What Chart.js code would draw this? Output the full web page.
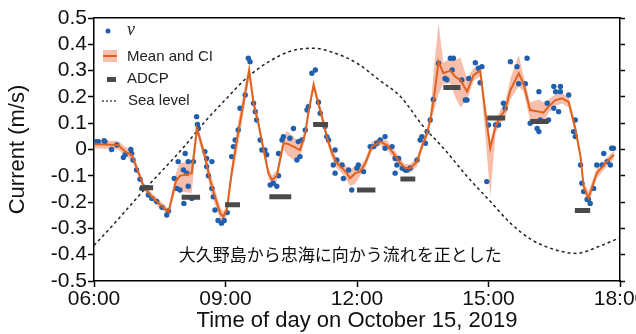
<!DOCTYPE html>
<html>
<head>
<meta charset="utf-8">
<script src="https://cdn.jsdelivr.net/npm/chart.js@4.4.0/dist/chart.umd.min.js"></script>
<style>
  html, body { margin: 0; padding: 0; background: #fff; }
  #wrap { width: 636px; height: 334px; }
</style>
</head>
<body>
<div id="wrap"><canvas id="flow" width="636" height="334"></canvas></div>
<script>
// Tick labels
const xTicks = ['06:00', '09:00', '12:00', '15:00', '18:00'];

// Sea level (every 30 min from 06:00)
const seaTime = [6, 6.5, 7, 7.5, 8, 8.5, 9, 9.5, 10, 10.5, 11, 11.5, 12,
                 12.5, 13, 13.5, 14, 14.5, 15, 15.5, 16, 16.5, 17, 17.5, 18];
const seaLevel = [-0.365, -0.275, -0.18, -0.09, 0.0, 0.10, 0.19, 0.275, 0.335, 0.375, 0.385, 0.366, 0.328,
                  0.265, 0.20, 0.09, 0.0, -0.10, -0.19, -0.28, -0.345, -0.38, -0.395, -0.37, -0.335];

// Mean and confidence interval (hours of day)
const meanTime = [6.02, 6.55, 6.71, 6.86, 7.01, 7.13, 7.32, 7.51, 7.70, 7.87,
                  7.96, 8.23, 8.35, 8.53, 8.65, 8.76, 8.88, 8.95, 9.03, 9.14,
                  9.26, 9.37, 9.54, 9.64, 9.75, 9.87, 9.98, 10.06, 10.17, 10.32,
                  10.40, 10.55, 10.70, 10.82, 10.89, 11.01, 11.08, 11.20, 11.31, 11.43,
                  11.54, 11.66, 11.77, 11.84, 11.96, 12.07, 12.19, 12.34, 12.53, 12.68,
                  12.83, 12.99, 13.10, 13.21, 13.37, 13.48, 13.60, 13.67, 13.75, 13.86,
                  13.97, 14.13, 14.24, 14.36, 14.51, 14.66, 14.81, 14.93, 15.04, 15.16,
                  15.27, 15.38, 15.50, 15.69, 15.80, 15.95, 16.15, 16.25, 16.37, 16.53,
                  16.68, 16.83, 16.98, 17.10, 17.17, 17.28, 17.38, 17.47, 17.67, 17.86];
const meanValue = [0.02, 0.017, -0.008, -0.02, -0.085, -0.14, -0.18, -0.21, -0.237, -0.12,
                   -0.10, -0.09, 0.08, -0.027, -0.116, -0.18, -0.243, -0.255, -0.23, -0.09,
                   0.036, 0.138, 0.30, 0.176, 0.10, -0.002, -0.09, -0.116, -0.10, 0.023,
                   0.023, 0.011, -0.002, 0.062, 0.138, 0.245, 0.20, 0.125, 0.049, -0.014,
                   -0.052, -0.071, -0.09, -0.11, -0.09, -0.084, -0.052, 0.011, 0.03, 0.017,
                   -0.014, -0.052, -0.071, -0.071, -0.046, 0.011, 0.062, 0.112, 0.19, 0.334,
                   0.29, 0.30, 0.277, 0.264, 0.22, 0.283, 0.30, 0.138, 0.005, 0.087,
                   0.125, 0.15, 0.226, 0.29, 0.25, 0.15, 0.144, 0.14, 0.163, 0.188,
                   0.195, 0.18, 0.08, -0.027, -0.14, -0.185, -0.135, -0.09, -0.052, -0.02];
const ciLow = [0.005, 0.0, -0.025, -0.04, -0.10, -0.155, -0.195, -0.225, -0.25, -0.15,
               -0.16, -0.165, 0.06, -0.05, -0.15, -0.21, -0.265, -0.275, -0.25, -0.12,
               -0.01, 0.10, 0.27, 0.15, 0.08, -0.02, -0.11, -0.135, -0.12, 0.0,
               -0.02, -0.04, -0.03, 0.04, 0.12, 0.225, 0.18, 0.105, 0.03, -0.035,
               -0.07, -0.09, -0.12, -0.14, -0.13, -0.10, -0.07, -0.005, 0.015, 0.0,
               -0.035, -0.07, -0.09, -0.09, -0.065, -0.005, 0.045, 0.095, 0.14, 0.21,
               0.25, 0.25, 0.20, 0.16, 0.19, 0.26, 0.28, 0.05, -0.18, 0.06,
               0.10, 0.12, 0.19, 0.24, 0.22, 0.11, 0.10, 0.10, 0.14, 0.165,
               0.175, 0.16, 0.06, -0.045, -0.16, -0.21, -0.155, -0.11, -0.07, -0.035];
const ciHigh = [0.035, 0.032, 0.01, 0.0, -0.07, -0.125, -0.165, -0.195, -0.225, -0.09,
                -0.05, -0.045, 0.10, -0.005, -0.085, -0.15, -0.22, -0.235, -0.21, -0.06,
                0.08, 0.18, 0.33, 0.20, 0.12, 0.015, -0.07, -0.10, -0.08, 0.045,
                0.07, 0.05, 0.02, 0.085, 0.16, 0.27, 0.22, 0.145, 0.07, 0.005,
                -0.035, -0.05, -0.065, -0.08, -0.06, -0.065, -0.035, 0.03, 0.045, 0.035,
                0.005, -0.035, -0.055, -0.055, -0.03, 0.03, 0.08, 0.13, 0.30, 0.48,
                0.33, 0.35, 0.34, 0.35, 0.27, 0.31, 0.32, 0.17, 0.03, 0.11,
                0.15, 0.18, 0.27, 0.36, 0.28, 0.18, 0.19, 0.18, 0.19, 0.21,
                0.215, 0.20, 0.10, -0.01, -0.12, -0.16, -0.115, -0.07, -0.035, -0.005];

// Individual velocity estimates v
const vTime = [6.05, 6.10, 6.23, 6.25, 6.40, 6.52, 6.67, 6.71, 6.84, 6.86,
               6.89, 6.97, 7.05, 7.09, 7.16, 7.24, 7.32, 7.43, 7.55, 7.66,
               7.70, 7.83, 7.89, 7.92, 7.96, 8.04, 8.05, 8.08, 8.12, 8.15,
               8.15, 8.23, 8.27, 8.34, 8.36, 8.38, 8.53, 8.57, 8.57, 8.61,
               8.69, 8.69, 8.72, 8.76, 8.83, 8.91, 8.97, 9.04, 9.14, 9.18,
               9.22, 9.29, 9.33, 9.45, 9.52, 9.56, 9.64, 9.68, 9.71, 9.79,
               9.83, 9.90, 9.94, 10.02, 10.09, 10.17, 10.21, 10.21, 10.29, 10.32,
               10.47, 10.55, 10.63, 10.70, 10.66, 10.74, 10.82, 10.86, 10.89, 10.97,
               11.05, 11.12, 11.16, 11.27, 11.31, 11.35, 11.50, 11.54, 11.46, 11.50,
               11.66, 11.69, 11.81, 11.88, 12.00, 12.03, 12.15, 12.30, 12.38, 12.45,
               12.53, 12.64, 12.64, 12.80, 12.87, 12.95, 12.91, 12.87, 13.03, 13.10,
               13.14, 13.21, 13.37, 13.44, 13.48, 13.56, 13.60, 13.67, 13.74, 13.86,
               14.01, 14.05, 14.13, 14.20, 14.17, 14.39, 14.47, 14.51, 14.55, 14.70,
               14.77, 14.81, 14.85, 14.96, 15.00, 15.16, 15.23, 15.34, 15.38, 15.50,
               15.65, 15.69, 15.84, 15.88, 15.95, 16.11, 16.15, 16.15, 16.18, 16.34,
               16.37, 16.49, 16.53, 16.64, 16.64, 16.49, 16.60, 16.83, 16.98, 16.94,
               16.98, 17.10, 17.13, 17.17, 17.25, 17.28, 17.32, 17.40, 17.47, 17.59,
               17.63, 17.71, 17.78, 17.81, 17.85];
const vValue = [0.03, 0.03, 0.033, 0.03, 0.0, 0.017, -0.03, -0.02, 0.0, -0.015,
                -0.04, -0.078, -0.113, -0.148, -0.144, -0.173, -0.186, -0.198, -0.22, -0.249,
                -0.234, -0.11, -0.148, -0.046, -0.154, -0.078, -0.205, -0.015, -0.09, -0.046,
                -0.14, -0.186, -0.046, 0.125, 0.095, 0.08, -0.008, -0.034, -0.065, -0.10,
                -0.046, -0.148, -0.18, -0.23, -0.27, -0.28, -0.27, -0.24, -0.027, 0.011,
                0.036, 0.074, 0.157, 0.207, 0.347, 0.334, 0.176, 0.144, 0.112, 0.036,
                -0.002, -0.002, -0.02, -0.135, -0.128, -0.14, -0.10, -0.015, 0.036, 0.049,
                0.043, 0.08, -0.04, -0.027, 0.03, 0.036, 0.074, 0.15, 0.163, 0.29,
                0.302, 0.18, 0.138, 0.087, 0.049, 0.036, -0.002, -0.04, -0.059, -0.09,
                -0.059, -0.11, -0.078, -0.154, -0.071, -0.059, -0.084, 0.011, 0.011, 0.024,
                0.036, 0.049, 0.005, 0.011, -0.034, -0.034, -0.059, -0.09, -0.071, -0.078,
                -0.078, -0.071, -0.04, 0.036, 0.049, 0.024, 0.068, 0.112, 0.19, 0.328,
                0.27, 0.265, 0.347, 0.347, 0.302, 0.264, 0.188, 0.188, 0.27, 0.33,
                0.309, 0.254, 0.315, -0.122, 0.093, 0.093, 0.093, 0.176, 0.157, 0.334,
                0.315, 0.25, 0.25, 0.347, 0.10, 0.08, 0.22, 0.068, 0.112, 0.176,
                0.112, 0.24, 0.22, 0.24, 0.22, 0.157, 0.144, 0.207, 0.112, 0.068,
                0.049, -0.059, -0.128, -0.16, -0.19, -0.19, -0.205, -0.148, -0.059, -0.059,
                -0.015, -0.046, -0.059, 0.005, 0.005];

// ADCP averages (start, end, value)
const adcpStart = [7.05, 8.0, 8.99, 10.0, 11.0, 12.0, 12.99, 13.97, 14.97, 15.95, 16.97];
const adcpEnd = [7.35, 8.42, 9.33, 10.5, 11.34, 12.42, 13.33, 14.36, 15.38, 16.37, 17.32];
const adcpValue = [-0.145, -0.182, -0.21, -0.18, 0.095, -0.154, -0.112, 0.236, 0.12, 0.106, -0.232];

const noteText = '大久野島から忠海に向かう流れを正とした';
const noteAt = [11.62, -0.4];

const BLUE = '#1f5fae';
const ORANGE = '#e0621f';
const BAND = 'rgba(240,128,88,0.5)';
const ADCP_COLOR = '#4a4a4a';

// build point lists from the arrays above
const pts = (xs, ys) => xs.map((t, i) => ({ x: t, y: ys[i] }));
const adcpPts = [];
adcpStart.forEach((s, i) => {
  adcpPts.push({ x: s, y: adcpValue[i] }, { x: adcpEnd[i], y: adcpValue[i] }, { x: adcpEnd[i], y: null });
});

Chart.defaults.font.family = "'Liberation Sans', Arial, sans-serif";
Chart.defaults.color = '#111';

// legend + note drawn straight on the canvas
const overlay = {
  id: 'overlay',
  afterDatasetsDraw(chart) {
    const { ctx, chartArea: a, scales: { x, y } } = chart;
    ctx.save();
    ctx.fillStyle = '#111';
    ctx.textAlign = 'center';
    ctx.textBaseline = 'middle';
    ctx.font = '17px "Noto Sans CJK JP"';
    ctx.fillText(noteText, x.getPixelForValue(noteAt[0]), y.getPixelForValue(noteAt[1]));

    const L = a.left, T = a.top;
    ctx.textAlign = 'left';
    // v
    ctx.fillStyle = BLUE;
    ctx.beginPath(); ctx.arc(L + 14, T + 13, 2.5, 0, Math.PI * 2); ctx.fill();
    ctx.fillStyle = '#222';
    ctx.font = 'italic 18px "Liberation Serif"';
    ctx.fillText('ν', L + 33, T + 12);
    ctx.font = '15px "Liberation Sans"';
    // mean and CI
    ctx.fillStyle = BAND;
    ctx.fillRect(L + 9, T + 32, 14, 12);
    ctx.strokeStyle = ORANGE; ctx.lineWidth = 2;
    ctx.beginPath(); ctx.moveTo(L + 9, T + 38); ctx.lineTo(L + 23, T + 38); ctx.stroke();
    ctx.fillStyle = '#222';
    ctx.fillText('Mean and CI', L + 33, T + 39);
    // ADCP
    ctx.fillStyle = ADCP_COLOR;
    ctx.fillRect(L + 13, T + 59, 9, 5);
    ctx.fillStyle = '#222';
    ctx.fillText('ADCP', L + 33, T + 61);
    // sea level
    ctx.strokeStyle = '#222'; ctx.lineWidth = 1.2;
    ctx.setLineDash([2, 2]);
    ctx.beginPath(); ctx.moveTo(L + 8, T + 83); ctx.lineTo(L + 22, T + 83); ctx.stroke();
    ctx.setLineDash([]);
    ctx.fillText('Sea level', L + 34, T + 83);
    ctx.restore();
  }
};

const axisLine = { display: true, color: '#000', width: 1.5 };

const flowChart = new Chart(document.getElementById('flow'), {
  type: 'line',
  data: {
    datasets: [
      {
        label: 'Sea level',
        data: pts(seaTime, seaLevel),
        borderColor: '#222',
        borderWidth: 1.5,
        borderDash: [3, 3],
        pointRadius: 0,
        cubicInterpolationMode: 'monotone',
        order: 6
      },
      {
        label: 'CI high',
        data: pts(meanTime, ciHigh),
        borderWidth: 0,
        borderColor: 'rgba(0,0,0,0)',
        backgroundColor: BAND,
        pointRadius: 0,
        fill: '+1',
        order: 5
      },
      {
        label: 'CI low',
        data: pts(meanTime, ciLow),
        borderWidth: 0,
        borderColor: 'rgba(0,0,0,0)',
        pointRadius: 0,
        fill: false,
        order: 5
      },
      {
        label: 'v',
        data: pts(vTime, vValue),
        showLine: false,
        pointRadius: 2.7,
        pointBackgroundColor: BLUE,
        pointBorderWidth: 0,
        order: 3
      },
      {
        label: 'Mean',
        data: pts(meanTime, meanValue),
        borderColor: ORANGE,
        borderWidth: 2,
        pointRadius: 0,
        tension: 0,
        order: 2
      },
      {
        label: 'ADCP',
        data: adcpPts,
        borderColor: ADCP_COLOR,
        borderWidth: 5,
        borderCapStyle: 'butt',
        pointRadius: 0,
        spanGaps: false,
        order: 1
      }
    ]
  },
  options: {
    responsive: false,
    animation: false,
    devicePixelRatio: 1,
    layout: { padding: { left: 0, right: 10, top: 18, bottom: 0 } },
    plugins: { legend: { display: false }, tooltip: { enabled: false } },
    scales: {
      x: {
        type: 'linear',
        min: 6, max: 18,
        ticks: {
          stepSize: 3,
          padding: 0,
          maxRotation: 0,
          autoSkip: false,
          font: { size: 21 },
          color: '#111',
          callback: (v, i) => xTicks[i]
        },
        grid: { drawOnChartArea: false, tickLength: 6, tickColor: '#000', tickWidth: 1.5 },
        border: axisLine,
        title: {
          display: true,
          text: 'Time of day on October 15, 2019',
          font: { size: 22 },
          color: '#111',
          padding: { top: 0, bottom: 0 }
        },
        afterFit: s => { s.height = 53; s.paddingLeft = 0; s.paddingRight = 0; }
      },
      xTop: {
        type: 'linear',
        position: 'top',
        min: 6, max: 18,
        ticks: { display: false },
        grid: { drawOnChartArea: false, drawTicks: false },
        border: axisLine,
        afterFit: s => { s.height = 0; s.paddingLeft = 0; s.paddingRight = 0; }
      },
      y: {
        min: -0.5, max: 0.5,
        ticks: {
          stepSize: 0.1,
          padding: 1,
          autoSkip: false,
          font: { size: 21 },
          color: '#111',
          callback: v => {
            const r = Math.round(v * 10) / 10;
            return r === 0 ? '0' : r.toFixed(1);
          }
        },
        grid: { drawOnChartArea: false, tickLength: 6, tickColor: '#000', tickWidth: 1.5 },
        border: axisLine,
        title: {
          display: true,
          text: 'Current (m/s)',
          font: { size: 22 },
          color: '#111',
          padding: { top: 5, bottom: 0 }
        },
        afterFit: s => { s.width = 94; }
      },
      yRight: {
        position: 'right',
        min: -0.5, max: 0.5,
        ticks: { display: false, stepSize: 0.1 },
        grid: { drawOnChartArea: false, tickLength: 5, tickColor: '#000', tickWidth: 1.5 },
        border: axisLine,
        afterFit: s => { s.width = 6; }
      }
    }
  },
  plugins: [overlay]
});
</script>
</body>
</html>
